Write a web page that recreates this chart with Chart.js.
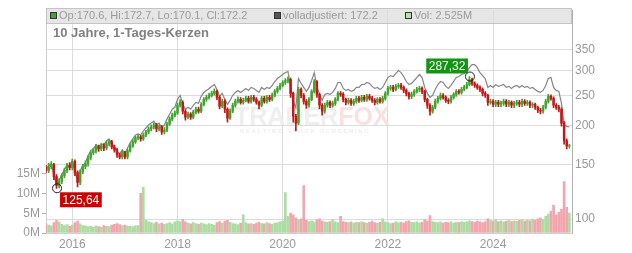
<!DOCTYPE html>
<html>
<head>
<meta charset="utf-8">
<script src="https://cdn.jsdelivr.net/npm/chart.js@4.4.1/dist/chart.umd.min.js"></script>
<style>
html, body { margin: 0; padding: 0; background: #fff; }
#wrap { position: relative; width: 632px; height: 253px; }
</style>
</head>
<body>
<div id="wrap"><canvas id="chart" width="632" height="253"></canvas></div>
<script>
// zeitachse: 200 punkte, alle 0.05 jahre ab mitte 2015
const startYear = 2015.5;
const stepYear = 0.05;
const firstOpen = 146.0;

const closes = [
  143.2,147.4,149.6,137.0,128.3,132.1,138.0,143.2,148.5,146.4,
  153.0,141.1,131.1,142.1,147.4,150.7,157.5,163.4,165.8,170.7,
  168.2,172.0,169.4,174.5,177.1,170.7,167.0,161.0,158.6,163.4,
  158.6,165.8,172.0,177.1,182.4,183.7,181.0,186.4,190.5,194.8,
  197.7,200.6,194.8,197.7,190.5,193.3,202.0,209.6,215.8,219.0,
  232.2,237.3,222.2,212.7,217.4,212.7,220.6,225.5,222.2,233.9,
  242.6,246.2,249.9,253.6,257.3,246.2,230.5,239.1,225.5,211.1,
  222.2,232.2,239.1,242.6,237.3,240.8,244.4,239.1,246.2,242.6,
  237.3,232.2,244.4,239.1,246.2,242.6,249.9,257.3,263.0,268.9,
  274.8,278.9,281.0,253.6,214.2,203.5,261.1,249.9,239.1,232.2,
  242.6,257.3,276.8,251.7,232.2,222.2,232.2,237.3,232.2,235.6,
  242.6,253.6,251.7,242.6,237.3,240.8,235.6,239.1,244.4,240.8,
  246.2,242.6,248.0,244.4,240.8,237.3,242.6,239.1,244.4,253.6,
  263.0,265.0,261.1,266.9,268.9,265.0,259.2,253.6,248.0,251.7,
  257.3,261.1,263.0,257.3,242.6,232.2,222.2,228.8,239.1,244.4,
  249.9,246.2,240.8,239.1,246.2,251.7,257.3,255.4,261.1,265.0,
  270.8,281.0,272.8,268.9,265.0,261.1,253.6,249.9,237.3,239.1,
  233.9,237.3,233.9,235.6,239.1,233.9,237.3,232.2,235.6,237.3,
  233.9,239.1,235.6,237.3,232.2,233.9,228.8,223.8,222.2,228.8,
  239.1,248.0,244.4,232.2,228.8,225.5,203.5,178.4,172.0,172.2
];

const highs = [
  149,151,153,151,139,135,140,146,151,152,
  156,155,143,144,150,154,160,166,169,174,
  173,175,175,178,180,179,173,169,163,166,
  165,168,175,180,185,187,186,189,193,198,
  201,204,203,201,200,197,205,213,219,223,
  236,242,240,225,221,220,224,229,229,237,
  246,250,254,258,262,260,249,243,242,228,
  226,236,243,247,246,245,248,248,250,250,
  246,240,248,248,250,250,254,261,267,273,
  279,283,286,284,256,217,265,264,253,242,
  246,261,281,279,254,235,236,241,240,239,
  246,257,257,255,245,245,244,243,248,248,
  250,250,252,252,248,244,246,246,248,257,
  267,269,269,271,273,273,268,262,256,256,
  261,265,267,266,260,245,235,232,243,248,
  254,253,249,244,250,255,261,261,265,269,
  275,287.32,284,276,272,268,264,257,252,243,
  242,241,241,239,243,242,241,240,239,241,
  241,243,242,241,240,237,236,231,227,232,
  243,252,251,247,235,232,228,206,181,174
];

const lows = [
  141,141,145,134,125.6,126,130,136,141,144,
  144,138,127,129,140,145,148,155,161,163,
  165,166,166,167,172,168,164,158,156,156,
  156,156,164,170,175,180,178,179,184,188,
  192,195,191,192,187,188,191,200,207,213,
  217,229,218,208,210,209,210,218,219,220,
  231,239,243,247,250,242,226,228,220,205,
  209,220,229,236,234,234,238,236,236,239,
  234,226,230,236,236,239,240,247,254,260,
  266,271,274,246,205,192,201,245,234,227,
  229,240,254,246,226,216,219,229,228,229,
  232,240,248,238,233,234,232,232,236,237,
  238,239,239,241,237,233,234,236,236,241,
  250,259,257,258,263,261,255,249,243,244,
  248,254,257,253,238,227,216,219,226,236,
  241,243,237,235,236,243,248,252,252,258,
  262,268,269,265,261,257,249,246,232,234,
  230,230,230,230,232,230,230,228,228,232,
  230,230,232,232,228,228,225,220,218,219,
  226,236,241,228,225,221,199,174,168,169
];

const adjusted = [
  144.2,148.5,150.7,138.0,129.2,133.1,139.1,144.2,149.6,147.4,
  154.1,142.1,132.1,143.2,148.5,151.8,159.8,165.8,168.2,173.2,
  170.7,174.5,173.2,178.4,181.0,174.5,170.7,164.6,162.2,167.0,
  162.2,169.4,175.8,181.0,186.4,187.8,186.4,191.9,196.3,200.6,
  203.5,206.5,200.6,203.5,196.3,200.6,209.6,217.4,225.5,228.8,
  242.6,249.9,233.9,225.5,228.8,225.5,232.2,237.3,235.6,248.0,
  255.4,259.2,263.0,266.9,270.8,261.1,248.0,253.6,242.6,233.9,
  240.8,249.9,255.4,259.2,255.4,259.2,263.0,259.2,265.0,263.0,
  259.2,255.4,265.0,261.1,265.0,263.0,268.9,276.8,283.0,287.2,
  291.5,295.8,297.9,267.0,239.1,228.0,283.0,272.8,265.0,257.3,
  265.0,278.9,295.8,267.0,251.7,240.8,251.7,253.6,251.7,255.4,
  263.0,274.8,274.8,263.0,259.2,261.1,257.3,259.2,265.0,265.0,
  270.8,270.8,274.8,272.8,267.0,263.0,265.0,261.1,265.0,274.8,
  285.1,289.3,287.2,293.6,300.1,295.8,287.2,276.8,270.8,272.8,
  278.9,285.1,291.5,285.1,265.0,253.6,246.2,249.9,261.1,270.8,
  276.8,274.8,267.0,263.0,268.9,276.8,285.1,287.2,291.5,293.6,
  297.9,306.7,313.6,313.6,306.7,295.8,289.3,283.0,265.0,268.9,
  265.0,270.8,267.0,268.9,270.8,265.0,267.0,263.0,267.0,268.9,
  265.0,268.9,265.0,267.0,263.0,265.0,261.1,257.3,255.4,259.2,
  268.9,283.0,285.1,265.0,259.2,257.3,235.6,200.6,198.7,197.7
];

// volumen in millionen
const volumes = [
  2.4,2.0,1.8,2.6,3.2,2.8,2.2,1.9,2.1,1.7,
  2.0,2.6,3.0,2.3,1.9,1.8,1.6,1.7,1.5,1.8,
  1.6,1.5,1.9,1.7,1.6,2.0,2.2,2.4,2.1,1.9,
  2.0,1.8,1.7,1.6,1.8,1.9,10.0,11.5,3.2,2.8,
  2.6,2.4,2.7,2.3,2.5,2.2,2.4,2.6,2.3,2.8,
  3.1,2.9,3.4,2.8,2.5,2.3,2.6,2.4,2.2,2.5,
  2.3,2.1,2.4,2.2,2.0,2.6,2.9,2.5,3.0,3.2,
  2.7,2.4,2.3,2.1,2.5,4.6,2.6,2.3,2.4,2.2,
  2.5,2.7,2.4,2.3,2.6,2.4,2.2,2.5,2.6,2.8,
  3.0,10.2,4.2,5.0,4.6,3.8,3.4,3.6,12.0,3.2,
  2.9,3.1,2.8,3.3,3.6,3.0,2.8,2.7,2.9,3.4,
  2.8,2.6,4.2,2.9,2.7,2.6,2.8,2.5,2.7,2.6,
  2.8,2.6,2.5,2.7,3.0,2.6,2.5,2.7,3.6,2.8,
  2.6,2.4,2.5,2.8,2.6,2.7,2.5,2.9,3.1,2.7,
  2.6,2.8,2.5,2.7,3.4,3.0,4.4,2.9,2.7,2.6,
  2.8,2.5,2.7,2.6,2.8,2.5,2.7,2.6,2.9,2.7,
  2.8,3.1,2.9,2.7,3.0,2.8,2.6,2.9,3.6,3.2,
  3.0,3.4,2.9,3.1,2.8,3.0,3.2,2.9,3.1,3.0,
  3.2,3.4,3.0,3.3,3.1,3.5,3.2,3.6,3.8,3.4,
  4.2,4.8,5.5,7.0,4.6,5.2,6.0,13.0,6.5,5.0
];

const yearTicks = [2016, 2018, 2020, 2022, 2024];
const priceTicks = [100, 150, 200, 250, 300, 350];
const volumeTicks = [0, 5, 10, 15];

const minMark = { year: 2015.71, price: 125.64, label: "125,64" };
const maxMark = { year: 2023.56, price: 287.32, label: "287,32" };

const legendOhlc = "Op:170.6, Hi:172.7, Lo:170.1, Cl:172.2";
const legendAdj = "volladjustiert: 172.2";
const legendVol = "Vol: 2.525M";
const titleText = "10 Jahre, 1-Tages-Kerzen";

const FONT = '"Liberation Sans", Arial, sans-serif';
const GREEN = "#3fa52c";
const RED = "#c81414";

function yearOf(i) {
    return startYear + i * stepYear;
}

const opens = closes.map((c, i) => (i === 0 ? firstOpen : closes[i - 1]));
const isUp = closes.map((c, i) => c >= opens[i]);
const candleColors = isUp.map((u) => (u ? GREEN : RED));

const bodyData = closes.map((c, i) => ({ x: yearOf(i), y: [opens[i], c] }));
const wickData = closes.map((c, i) => ({ x: yearOf(i), y: [lows[i], highs[i]] }));
const adjData = adjusted.map((v, i) => ({ x: yearOf(i), y: v }));
const volData = volumes.map((v, i) => ({ x: yearOf(i), y: v }));

// kopfzeile, wasserzeichen, markierungen
const decoPlugin = {
    id: "deco",
    beforeDraw(chart) {
        const ctx = chart.ctx;
        const a = chart.chartArea;
        ctx.save();
        ctx.fillStyle = "#fff";
        ctx.fillRect(0, 0, chart.width, chart.height);
        ctx.fillStyle = "#e6e6e6";
        ctx.fillRect(a.left, 8, a.right - a.left, 15);
        ctx.restore();
    },
    beforeDatasetsDraw(chart) {
        const ctx = chart.ctx;
        ctx.save();
        ctx.font = "bold 25px " + FONT;
        ctx.textBaseline = "alphabetic";
        ctx.fillStyle = "#efefef";
        ctx.fillText("TRADER", 234, 125);
        const w = ctx.measureText("TRADER").width;
        ctx.fillStyle = "#fbe0e3";
        ctx.fillText("FOX", 234 + w, 125);
        ctx.font = "bold 6px " + FONT;
        ctx.fillStyle = "#eeeeee";
        ctx.fillText("R E A L T I M E   S T O C K   S C R E E N I N G", 240, 133);
        ctx.restore();
    },
    afterDatasetsDraw(chart) {
        const ctx = chart.ctx;
        const xs = chart.scales.x;
        const ys = chart.scales.y;
        ctx.save();
        ctx.font = "12px " + FONT;
        ctx.textBaseline = "middle";

        // tief
        let cx = xs.getPixelForValue(minMark.year);
        let cy = ys.getPixelForValue(minMark.price);
        ctx.strokeStyle = "#222";
        ctx.lineWidth = 1;
        ctx.beginPath();
        ctx.arc(cx, cy, 4.5, 0, Math.PI * 2);
        ctx.stroke();
        let tw = ctx.measureText(minMark.label).width;
        ctx.fillStyle = "#cc0000";
        ctx.fillRect(cx + 3, cy + 4, tw + 5, 15);
        ctx.fillStyle = "#fff";
        ctx.fillText(minMark.label, cx + 5.5, cy + 12);

        // hoch
        cx = xs.getPixelForValue(maxMark.year);
        cy = ys.getPixelForValue(maxMark.price);
        ctx.beginPath();
        ctx.arc(cx, cy, 4.5, 0, Math.PI * 2);
        ctx.stroke();
        tw = ctx.measureText(maxMark.label).width;
        ctx.fillStyle = "#129612";
        ctx.fillRect(cx - tw - 7, cy - 18, tw + 5, 15);
        ctx.fillStyle = "#fff";
        ctx.fillText(maxMark.label, cx - tw - 4.5, cy - 10);
        ctx.restore();
    },
    afterDraw(chart) {
        const ctx = chart.ctx;
        const a = chart.chartArea;
        ctx.save();
        ctx.strokeStyle = "#c4c4c4";
        ctx.lineWidth = 1;
        ctx.strokeRect(a.left + 0.5, 8.5, a.right - a.left - 1, 15);

        ctx.font = "11px " + FONT;
        ctx.textBaseline = "middle";
        const items = [
            { x: 50, fill: GREEN, text: legendOhlc },
            { x: 274, fill: "#555555", text: legendAdj },
            { x: 405, fill: "#b5e2ab", text: legendVol }
        ];
        items.forEach((it) => {
            ctx.fillStyle = it.fill;
            ctx.fillRect(it.x, 12, 7, 7);
            ctx.strokeStyle = "#333";
            ctx.strokeRect(it.x + 0.5, 12.5, 6, 6);
            ctx.fillStyle = "#9a9a9a";
            ctx.fillText(it.text, it.x + 9, 16);
        });

        ctx.font = "bold 13px " + FONT;
        ctx.fillStyle = "#808080";
        ctx.fillText(titleText, 53, 33);
        ctx.restore();
    }
};

const ctx = document.getElementById("chart");

new Chart(ctx, {
    data: {
        datasets: [
            {
                type: "bar",
                label: "Kerzen",
                data: bodyData,
                yAxisID: "y",
                grouped: false,
                barThickness: 1.8,
                backgroundColor: candleColors,
                borderWidth: 0,
                order: 1
            },
            {
                type: "bar",
                label: "Dochte",
                data: wickData,
                yAxisID: "y",
                grouped: false,
                barThickness: 1,
                backgroundColor: candleColors,
                borderWidth: 0,
                order: 2
            },
            {
                type: "line",
                label: "volladjustiert",
                data: adjData,
                yAxisID: "y",
                borderColor: "#858585",
                borderWidth: 1.2,
                pointRadius: 0,
                tension: 0,
                order: 3
            },
            {
                type: "bar",
                label: "Volumen",
                data: volData,
                yAxisID: "yv",
                grouped: false,
                barThickness: 2,
                backgroundColor: isUp.map((u) => (u ? "#acdca2" : "#f2a5ad")),
                borderWidth: 0,
                order: 4
            }
        ]
    },
    options: {
        responsive: false,
        animation: false,
        events: [],
        layout: { padding: { top: 8, left: 0, right: 0, bottom: 0 } },
        plugins: {
            legend: { display: false },
            tooltip: { enabled: false }
        },
        scales: {
            x: {
                type: "linear",
                offset: false,
                min: 2015.5,
                max: 2025.5,
                afterBuildTicks: (s) => { s.ticks = yearTicks.map((v) => ({ value: v })); },
                afterFit: (s) => { s.height = 20; },
                grid: { color: "#dcdcdc", drawTicks: false, offset: false },
                border: { color: "#cfcfcf" },
                ticks: {
                    color: "#999",
                    font: { size: 12, family: FONT },
                    padding: 4,
                    maxRotation: 0,
                    callback: (v) => String(v)
                }
            },
            y: {
                type: "logarithmic",
                position: "right",
                min: 90.25,
                max: 469.2,
                afterBuildTicks: (s) => { s.ticks = priceTicks.map((v) => ({ value: v })); },
                afterFit: (s) => { s.width = 60; },
                grid: { color: "#dcdcdc", drawTicks: false },
                border: { color: "#b0b0b0" },
                ticks: {
                    color: "#999",
                    font: { size: 12, family: FONT },
                    padding: 3,
                    callback: (v) => String(v)
                }
            },
            yv: {
                type: "linear",
                position: "left",
                min: 0,
                max: 56.25,
                afterBuildTicks: (s) => { s.ticks = volumeTicks.map((v) => ({ value: v })); },
                afterFit: (s) => { s.width = 46; },
                grid: { drawOnChartArea: false, tickLength: 4, color: "#b0b0b0" },
                border: { color: "#cfcfcf" },
                ticks: {
                    color: "#999",
                    font: { size: 12, family: FONT },
                    padding: 2,
                    callback: (v) => v + "M"
                }
            }
        }
    },
    plugins: [decoPlugin]
});
</script>
</body>
</html>
